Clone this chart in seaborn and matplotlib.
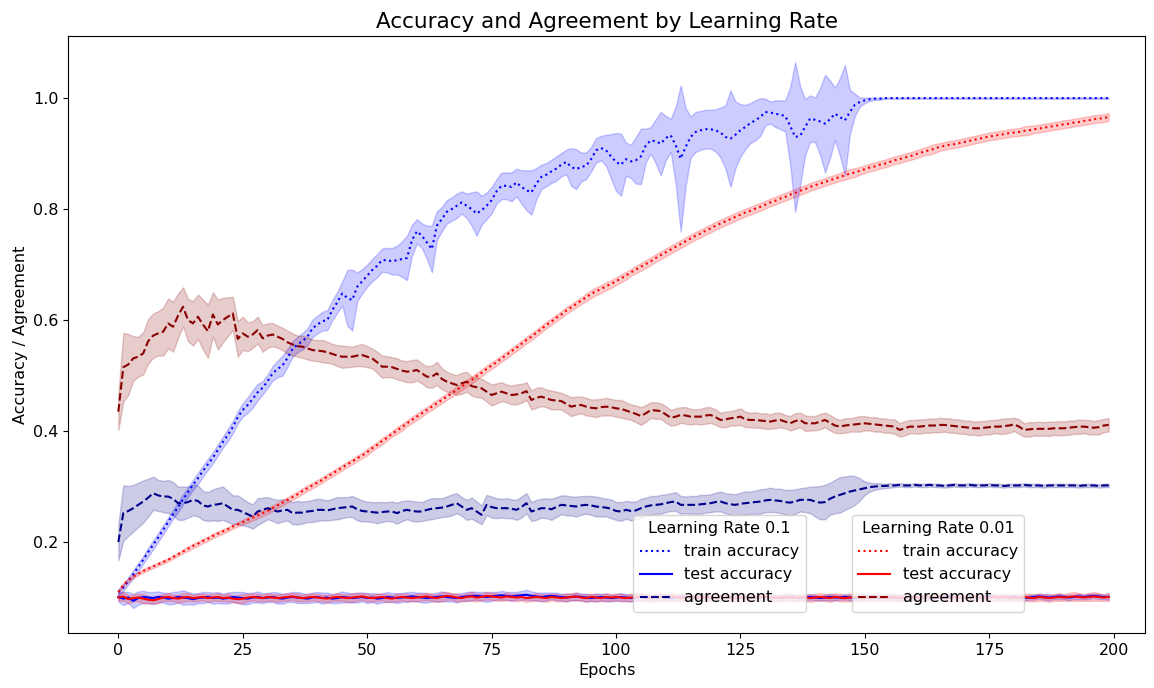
"""Accuracy and agreement curves for two learning rates."""

import numpy as np
import matplotlib
matplotlib.use('Agg')
import matplotlib.pyplot as plt
import seaborn as sns

####################################################################################################
## DATA (mean and std over runs, one value per epoch)

EPOCHS = list(range(200))

LR1_TRAIN = [
    0.110, 0.118, 0.130, 0.142, 0.155, 0.168, 0.182, 0.195, 0.208, 0.222,
    0.236, 0.250, 0.263, 0.277, 0.290, 0.303, 0.315, 0.328, 0.340, 0.352,
    0.366, 0.380, 0.393, 0.407, 0.425, 0.438, 0.447, 0.458, 0.470, 0.478,
    0.490, 0.504, 0.512, 0.518, 0.532, 0.548, 0.556, 0.562, 0.570, 0.585,
    0.592, 0.598, 0.600, 0.618, 0.632, 0.648, 0.640, 0.636, 0.660, 0.670,
    0.680, 0.690, 0.698, 0.708, 0.708, 0.706, 0.708, 0.710, 0.712, 0.744,
    0.760, 0.752, 0.740, 0.728, 0.770, 0.782, 0.795, 0.800, 0.806, 0.812,
    0.806, 0.800, 0.792, 0.798, 0.806, 0.816, 0.832, 0.842, 0.842, 0.840,
    0.848, 0.840, 0.834, 0.830, 0.846, 0.858, 0.862, 0.868, 0.873, 0.880,
    0.885, 0.876, 0.872, 0.876, 0.878, 0.890, 0.906, 0.910, 0.906, 0.895,
    0.885, 0.880, 0.890, 0.886, 0.888, 0.895, 0.915, 0.924, 0.922, 0.918,
    0.928, 0.933, 0.915, 0.891, 0.912, 0.930, 0.939, 0.942, 0.944, 0.944,
    0.942, 0.938, 0.930, 0.927, 0.934, 0.942, 0.948, 0.955, 0.960, 0.966,
    0.975, 0.974, 0.972, 0.970, 0.968, 0.950, 0.930, 0.932, 0.948, 0.963,
    0.961, 0.958, 0.954, 0.962, 0.972, 0.966, 0.960, 0.975, 0.988, 0.993,
    0.996, 0.998, 0.999, 0.999, 1.000, 1.000, 1.000, 1.000, 1.000, 1.000,
    1.000, 1.000, 1.000, 1.000, 1.000, 1.000, 1.000, 1.000, 1.000, 1.000,
    1.000, 1.000, 1.000, 1.000, 1.000, 1.000, 1.000, 1.000, 1.000, 1.000,
    1.000, 1.000, 1.000, 1.000, 1.000, 1.000, 1.000, 1.000, 1.000, 1.000,
    1.000, 1.000, 1.000, 1.000, 1.000, 1.000, 1.000, 1.000, 1.000, 1.000,
]
LR1_TRAIN_SD = [
    0.005, 0.006, 0.006, 0.007, 0.007, 0.007, 0.008, 0.008, 0.008, 0.008,
    0.008, 0.008, 0.009, 0.009, 0.009, 0.009, 0.010, 0.010, 0.010, 0.010,
    0.010, 0.010, 0.011, 0.011, 0.011, 0.012, 0.014, 0.016, 0.015, 0.012,
    0.012, 0.013, 0.015, 0.018, 0.016, 0.014, 0.014, 0.015, 0.015, 0.016,
    0.016, 0.017, 0.018, 0.018, 0.019, 0.022, 0.050, 0.055, 0.026, 0.022,
    0.020, 0.020, 0.021, 0.021, 0.022, 0.024, 0.026, 0.032, 0.040, 0.028,
    0.022, 0.022, 0.030, 0.042, 0.026, 0.022, 0.021, 0.021, 0.022, 0.020,
    0.022, 0.030, 0.040, 0.026, 0.024, 0.024, 0.022, 0.024, 0.024, 0.026,
    0.025, 0.030, 0.036, 0.040, 0.028, 0.022, 0.021, 0.021, 0.022, 0.021,
    0.022, 0.034, 0.036, 0.026, 0.024, 0.022, 0.022, 0.022, 0.028, 0.040,
    0.052, 0.056, 0.030, 0.030, 0.042, 0.050, 0.030, 0.024, 0.040, 0.057,
    0.040, 0.030, 0.070, 0.132, 0.070, 0.037, 0.036, 0.035, 0.035, 0.035,
    0.038, 0.045, 0.057, 0.087, 0.060, 0.047, 0.040, 0.036, 0.036, 0.034,
    0.024, 0.020, 0.024, 0.026, 0.028, 0.070, 0.135, 0.090, 0.050, 0.042,
    0.040, 0.060, 0.088, 0.070, 0.047, 0.070, 0.100, 0.040, 0.020, 0.008,
    0.005, 0.003, 0.002, 0.002, 0.001, 0.001, 0.001, 0.001, 0.001, 0.001,
    0.001, 0.001, 0.001, 0.001, 0.001, 0.001, 0.001, 0.001, 0.001, 0.001,
    0.001, 0.001, 0.001, 0.001, 0.001, 0.001, 0.001, 0.001, 0.001, 0.001,
    0.001, 0.001, 0.001, 0.001, 0.001, 0.001, 0.001, 0.001, 0.001, 0.001,
    0.001, 0.001, 0.001, 0.001, 0.001, 0.001, 0.001, 0.001, 0.001, 0.001,
]

LR1_TEST = [
    0.101, 0.098, 0.100, 0.094, 0.099, 0.101, 0.100, 0.099, 0.101, 0.100,
    0.098, 0.099, 0.101, 0.100, 0.099, 0.097, 0.099, 0.100, 0.101, 0.099,
    0.100, 0.098, 0.099, 0.101, 0.100, 0.099, 0.098, 0.100, 0.101, 0.099,
    0.100, 0.101, 0.099, 0.098, 0.100, 0.101, 0.100, 0.099, 0.098, 0.100,
    0.101, 0.099, 0.100, 0.098, 0.099, 0.101, 0.100, 0.099, 0.100, 0.101,
    0.099, 0.100, 0.098, 0.099, 0.101, 0.100, 0.099, 0.100, 0.101, 0.102,
    0.101, 0.100, 0.099, 0.100, 0.101, 0.102, 0.101, 0.100, 0.099, 0.101,
    0.102, 0.103, 0.103, 0.102, 0.101, 0.102, 0.103, 0.104, 0.103, 0.102,
    0.103, 0.104, 0.105, 0.103, 0.102, 0.101, 0.102, 0.103, 0.102, 0.101,
    0.100, 0.101, 0.102, 0.101, 0.100, 0.099, 0.100, 0.101, 0.100, 0.099,
    0.100, 0.101, 0.100, 0.099, 0.100, 0.101, 0.100, 0.099, 0.100, 0.101,
    0.100, 0.099, 0.100, 0.101, 0.100, 0.100, 0.099, 0.100, 0.101, 0.100,
    0.099, 0.100, 0.101, 0.100, 0.099, 0.100, 0.101, 0.100, 0.099, 0.100,
    0.101, 0.100, 0.100, 0.099, 0.100, 0.101, 0.100, 0.099, 0.100, 0.101,
    0.100, 0.099, 0.100, 0.101, 0.100, 0.100, 0.101, 0.100, 0.099, 0.100,
    0.101, 0.100, 0.100, 0.099, 0.100, 0.101, 0.100, 0.099, 0.100, 0.101,
    0.100, 0.100, 0.101, 0.100, 0.099, 0.100, 0.101, 0.102, 0.101, 0.100,
    0.099, 0.100, 0.101, 0.100, 0.101, 0.102, 0.101, 0.100, 0.101, 0.100,
    0.101, 0.100, 0.099, 0.100, 0.101, 0.102, 0.101, 0.100, 0.101, 0.102,
    0.101, 0.100, 0.101, 0.102, 0.101, 0.102, 0.103, 0.102, 0.101, 0.101,
]
LR1_TEST_SD = [
    0.008, 0.012, 0.010, 0.013, 0.012, 0.011, 0.010, 0.011, 0.010, 0.009,
    0.010, 0.011, 0.010, 0.013, 0.011, 0.010, 0.009, 0.010, 0.009, 0.010,
    0.010, 0.009, 0.010, 0.009, 0.010, 0.011, 0.010, 0.009, 0.010, 0.009,
    0.008, 0.009, 0.010, 0.009, 0.008, 0.009, 0.010, 0.009, 0.008, 0.009,
    0.009, 0.010, 0.009, 0.008, 0.009, 0.010, 0.009, 0.008, 0.009, 0.008,
    0.009, 0.008, 0.009, 0.008, 0.009, 0.008, 0.009, 0.008, 0.009, 0.008,
    0.008, 0.009, 0.008, 0.007, 0.008, 0.009, 0.008, 0.007, 0.008, 0.007,
    0.008, 0.008, 0.007, 0.008, 0.009, 0.008, 0.007, 0.008, 0.007, 0.008,
    0.007, 0.008, 0.009, 0.008, 0.007, 0.008, 0.007, 0.006, 0.007, 0.006,
    0.007, 0.006, 0.007, 0.006, 0.007, 0.006, 0.007, 0.006, 0.007, 0.006,
    0.006, 0.007, 0.006, 0.006, 0.007, 0.006, 0.006, 0.005, 0.006, 0.006,
    0.005, 0.006, 0.006, 0.005, 0.006, 0.005, 0.006, 0.005, 0.006, 0.005,
    0.005, 0.006, 0.005, 0.004, 0.005, 0.006, 0.005, 0.004, 0.005, 0.005,
    0.006, 0.005, 0.004, 0.005, 0.005, 0.006, 0.005, 0.004, 0.005, 0.005,
    0.005, 0.004, 0.005, 0.006, 0.005, 0.004, 0.005, 0.005, 0.004, 0.005,
    0.005, 0.004, 0.005, 0.005, 0.004, 0.005, 0.004, 0.005, 0.005, 0.004,
    0.005, 0.004, 0.005, 0.004, 0.005, 0.005, 0.004, 0.005, 0.004, 0.005,
    0.004, 0.005, 0.005, 0.004, 0.005, 0.004, 0.005, 0.004, 0.005, 0.004,
    0.005, 0.004, 0.005, 0.004, 0.005, 0.004, 0.005, 0.005, 0.004, 0.005,
    0.004, 0.005, 0.004, 0.005, 0.004, 0.005, 0.004, 0.005, 0.004, 0.005,
]

LR1_AGREE = [
    0.200, 0.252, 0.256, 0.261, 0.267, 0.273, 0.280, 0.288, 0.284, 0.282,
    0.282, 0.278, 0.270, 0.270, 0.272, 0.276, 0.274, 0.266, 0.264, 0.267,
    0.268, 0.270, 0.264, 0.258, 0.258, 0.254, 0.250, 0.246, 0.255, 0.258,
    0.261, 0.258, 0.255, 0.257, 0.258, 0.252, 0.253, 0.253, 0.255, 0.256,
    0.258, 0.258, 0.257, 0.259, 0.261, 0.262, 0.263, 0.264, 0.259, 0.256,
    0.255, 0.254, 0.253, 0.254, 0.255, 0.255, 0.252, 0.256, 0.258, 0.256,
    0.255, 0.255, 0.258, 0.260, 0.261, 0.262, 0.264, 0.267, 0.270, 0.264,
    0.258, 0.261, 0.255, 0.249, 0.267, 0.263, 0.261, 0.261, 0.261, 0.260,
    0.258, 0.263, 0.270, 0.255, 0.258, 0.261, 0.261, 0.259, 0.263, 0.267,
    0.266, 0.265, 0.264, 0.266, 0.267, 0.266, 0.264, 0.263, 0.262, 0.260,
    0.256, 0.255, 0.258, 0.256, 0.257, 0.261, 0.264, 0.266, 0.267, 0.268,
    0.270, 0.272, 0.273, 0.267, 0.267, 0.267, 0.267, 0.268, 0.269, 0.270,
    0.272, 0.273, 0.270, 0.268, 0.267, 0.269, 0.270, 0.271, 0.272, 0.273,
    0.275, 0.276, 0.275, 0.274, 0.272, 0.271, 0.273, 0.276, 0.276, 0.276,
    0.273, 0.271, 0.272, 0.278, 0.282, 0.285, 0.288, 0.291, 0.293, 0.295,
    0.297, 0.299, 0.300, 0.301, 0.301, 0.302, 0.302, 0.303, 0.302, 0.302,
    0.303, 0.302, 0.302, 0.303, 0.302, 0.302, 0.301, 0.302, 0.303, 0.302,
    0.302, 0.303, 0.302, 0.302, 0.302, 0.303, 0.302, 0.302, 0.301, 0.302,
    0.302, 0.302, 0.303, 0.302, 0.302, 0.302, 0.301, 0.302, 0.302, 0.302,
    0.302, 0.302, 0.302, 0.301, 0.302, 0.302, 0.302, 0.301, 0.302, 0.302,
]
LR1_AGREE_SD = [
    0.033, 0.050, 0.045, 0.042, 0.040, 0.038, 0.034, 0.030, 0.028, 0.028,
    0.030, 0.030, 0.030, 0.030, 0.028, 0.028, 0.028, 0.026, 0.026, 0.028,
    0.030, 0.030, 0.028, 0.026, 0.026, 0.024, 0.022, 0.022, 0.024, 0.022,
    0.020, 0.020, 0.021, 0.020, 0.019, 0.020, 0.021, 0.020, 0.019, 0.020,
    0.020, 0.019, 0.018, 0.019, 0.020, 0.019, 0.018, 0.019, 0.020, 0.019,
    0.018, 0.018, 0.019, 0.018, 0.017, 0.018, 0.019, 0.018, 0.017, 0.018,
    0.018, 0.017, 0.018, 0.019, 0.018, 0.017, 0.018, 0.019, 0.018, 0.017,
    0.018, 0.019, 0.018, 0.017, 0.018, 0.019, 0.018, 0.017, 0.018, 0.017,
    0.018, 0.019, 0.018, 0.017, 0.018, 0.017, 0.018, 0.019, 0.018, 0.017,
    0.018, 0.017, 0.018, 0.017, 0.016, 0.017, 0.018, 0.017, 0.016, 0.017,
    0.016, 0.017, 0.016, 0.017, 0.016, 0.017, 0.016, 0.017, 0.016, 0.017,
    0.016, 0.016, 0.017, 0.016, 0.015, 0.016, 0.016, 0.017, 0.016, 0.016,
    0.017, 0.018, 0.018, 0.019, 0.019, 0.020, 0.021, 0.020, 0.021, 0.022,
    0.021, 0.022, 0.021, 0.022, 0.022, 0.023, 0.022, 0.021, 0.022, 0.024,
    0.027, 0.030, 0.031, 0.029, 0.030, 0.032, 0.030, 0.029, 0.026, 0.020,
    0.012, 0.008, 0.006, 0.005, 0.004, 0.004, 0.003, 0.003, 0.003, 0.003,
    0.003, 0.003, 0.003, 0.003, 0.003, 0.003, 0.003, 0.003, 0.003, 0.003,
    0.003, 0.003, 0.003, 0.003, 0.003, 0.003, 0.003, 0.003, 0.003, 0.003,
    0.003, 0.003, 0.003, 0.003, 0.003, 0.003, 0.003, 0.003, 0.003, 0.003,
    0.003, 0.003, 0.003, 0.003, 0.003, 0.003, 0.003, 0.003, 0.003, 0.003,
]

LR01_TRAIN = [
    0.110, 0.123, 0.131, 0.138, 0.143, 0.148, 0.152, 0.156, 0.160, 0.164,
    0.168, 0.173, 0.178, 0.183, 0.188, 0.193, 0.197, 0.202, 0.206, 0.211,
    0.215, 0.219, 0.223, 0.228, 0.232, 0.236, 0.240, 0.244, 0.248, 0.252,
    0.256, 0.261, 0.266, 0.271, 0.276, 0.281, 0.286, 0.292, 0.297, 0.302,
    0.307, 0.312, 0.318, 0.323, 0.329, 0.334, 0.340, 0.345, 0.351, 0.356,
    0.362, 0.369, 0.375, 0.382, 0.388, 0.395, 0.401, 0.407, 0.414, 0.420,
    0.426, 0.432, 0.438, 0.444, 0.450, 0.456, 0.462, 0.468, 0.474, 0.480,
    0.486, 0.492, 0.499, 0.505, 0.512, 0.518, 0.524, 0.531, 0.537, 0.544,
    0.550, 0.557, 0.564, 0.570, 0.577, 0.584, 0.591, 0.597, 0.604, 0.610,
    0.617, 0.623, 0.629, 0.635, 0.641, 0.647, 0.652, 0.656, 0.661, 0.665,
    0.670, 0.675, 0.680, 0.686, 0.691, 0.696, 0.701, 0.706, 0.712, 0.717,
    0.722, 0.727, 0.732, 0.737, 0.742, 0.747, 0.752, 0.756, 0.761, 0.765,
    0.770, 0.774, 0.778, 0.782, 0.786, 0.790, 0.794, 0.797, 0.801, 0.804,
    0.808, 0.812, 0.815, 0.819, 0.822, 0.826, 0.829, 0.833, 0.836, 0.840,
    0.843, 0.846, 0.849, 0.852, 0.855, 0.858, 0.861, 0.864, 0.866, 0.869,
    0.872, 0.875, 0.877, 0.880, 0.882, 0.885, 0.888, 0.890, 0.893, 0.895,
    0.898, 0.901, 0.904, 0.906, 0.909, 0.912, 0.914, 0.916, 0.917, 0.919,
    0.921, 0.923, 0.925, 0.927, 0.929, 0.931, 0.932, 0.934, 0.935, 0.937,
    0.938, 0.939, 0.941, 0.942, 0.944, 0.945, 0.947, 0.948, 0.950, 0.951,
    0.953, 0.954, 0.956, 0.957, 0.959, 0.960, 0.962, 0.963, 0.964, 0.966,
]
LR01_TRAIN_SD = [
    0.002, 0.003, 0.003, 0.003, 0.003, 0.003, 0.003, 0.003, 0.003, 0.003,
    0.003, 0.003, 0.003, 0.003, 0.004, 0.004, 0.004, 0.004, 0.004, 0.004,
    0.004, 0.004, 0.004, 0.004, 0.004, 0.004, 0.005, 0.005, 0.005, 0.005,
    0.005, 0.005, 0.005, 0.005, 0.005, 0.005, 0.005, 0.005, 0.005, 0.005,
    0.005, 0.005, 0.005, 0.005, 0.005, 0.005, 0.005, 0.005, 0.005, 0.005,
    0.006, 0.005, 0.005, 0.006, 0.005, 0.005, 0.006, 0.006, 0.005, 0.006,
    0.006, 0.006, 0.005, 0.006, 0.006, 0.006, 0.006, 0.006, 0.006, 0.006,
    0.006, 0.006, 0.006, 0.006, 0.006, 0.006, 0.006, 0.006, 0.006, 0.006,
    0.006, 0.006, 0.006, 0.006, 0.006, 0.006, 0.006, 0.006, 0.006, 0.006,
    0.006, 0.006, 0.006, 0.006, 0.007, 0.007, 0.007, 0.007, 0.007, 0.007,
    0.007, 0.007, 0.007, 0.006, 0.007, 0.007, 0.007, 0.007, 0.007, 0.007,
    0.007, 0.007, 0.007, 0.007, 0.007, 0.007, 0.007, 0.007, 0.007, 0.007,
    0.007, 0.007, 0.007, 0.007, 0.007, 0.007, 0.007, 0.007, 0.007, 0.007,
    0.007, 0.007, 0.007, 0.007, 0.007, 0.007, 0.007, 0.007, 0.007, 0.007,
    0.007, 0.007, 0.007, 0.007, 0.007, 0.007, 0.008, 0.008, 0.008, 0.007,
    0.007, 0.007, 0.007, 0.007, 0.007, 0.007, 0.007, 0.007, 0.007, 0.007,
    0.007, 0.007, 0.007, 0.008, 0.008, 0.007, 0.007, 0.007, 0.007, 0.007,
    0.007, 0.007, 0.007, 0.007, 0.007, 0.007, 0.007, 0.007, 0.007, 0.007,
    0.007, 0.007, 0.008, 0.008, 0.007, 0.007, 0.007, 0.007, 0.007, 0.007,
    0.007, 0.007, 0.007, 0.007, 0.007, 0.007, 0.007, 0.007, 0.007, 0.007,
]

LR01_TEST = [
    0.100, 0.102, 0.097, 0.099, 0.100, 0.098, 0.096, 0.095, 0.097, 0.100,
    0.101, 0.099, 0.098, 0.100, 0.101, 0.099, 0.100, 0.101, 0.099, 0.100,
    0.101, 0.099, 0.100, 0.098, 0.097, 0.098, 0.100, 0.101, 0.100, 0.099,
    0.101, 0.100, 0.099, 0.100, 0.101, 0.102, 0.100, 0.099, 0.100, 0.101,
    0.100, 0.099, 0.098, 0.100, 0.101, 0.100, 0.099, 0.100, 0.101, 0.102,
    0.100, 0.099, 0.100, 0.101, 0.099, 0.098, 0.100, 0.101, 0.100, 0.099,
    0.100, 0.101, 0.102, 0.100, 0.099, 0.101, 0.103, 0.102, 0.100, 0.099,
    0.101, 0.102, 0.100, 0.101, 0.103, 0.102, 0.101, 0.100, 0.102, 0.101,
    0.100, 0.101, 0.099, 0.100, 0.101, 0.100, 0.099, 0.101, 0.100, 0.099,
    0.100, 0.101, 0.102, 0.100, 0.099, 0.101, 0.100, 0.099, 0.101, 0.100,
    0.101, 0.100, 0.099, 0.100, 0.101, 0.102, 0.100, 0.099, 0.100, 0.101,
    0.100, 0.102, 0.101, 0.099, 0.100, 0.101, 0.100, 0.099, 0.101, 0.100,
    0.099, 0.100, 0.101, 0.100, 0.099, 0.101, 0.100, 0.099, 0.100, 0.101,
    0.102, 0.100, 0.099, 0.100, 0.101, 0.100, 0.099, 0.101, 0.100, 0.099,
    0.100, 0.101, 0.100, 0.099, 0.101, 0.100, 0.099, 0.100, 0.101, 0.100,
    0.099, 0.100, 0.101, 0.100, 0.099, 0.100, 0.101, 0.100, 0.099, 0.101,
    0.100, 0.099, 0.100, 0.101, 0.100, 0.101, 0.100, 0.099, 0.100, 0.101,
    0.100, 0.099, 0.101, 0.100, 0.099, 0.100, 0.101, 0.100, 0.101, 0.100,
    0.099, 0.100, 0.101, 0.100, 0.099, 0.101, 0.100, 0.099, 0.100, 0.101,
    0.100, 0.101, 0.102, 0.101, 0.100, 0.101, 0.102, 0.101, 0.100, 0.101,
]
LR01_TEST_SD = [
    0.006, 0.008, 0.007, 0.006, 0.007, 0.008, 0.007, 0.006, 0.007, 0.006,
    0.007, 0.006, 0.007, 0.008, 0.007, 0.006, 0.007, 0.006, 0.007, 0.006,
    0.007, 0.006, 0.007, 0.006, 0.007, 0.008, 0.007, 0.006, 0.007, 0.006,
    0.007, 0.006, 0.007, 0.006, 0.007, 0.006, 0.007, 0.006, 0.007, 0.006,
    0.007, 0.006, 0.007, 0.006, 0.007, 0.006, 0.007, 0.008, 0.007, 0.006,
    0.007, 0.006, 0.007, 0.006, 0.007, 0.006, 0.007, 0.006, 0.007, 0.006,
    0.007, 0.006, 0.007, 0.006, 0.007, 0.008, 0.007, 0.006, 0.007, 0.006,
    0.007, 0.008, 0.007, 0.006, 0.007, 0.006, 0.007, 0.006, 0.007, 0.006,
    0.007, 0.006, 0.007, 0.006, 0.007, 0.006, 0.007, 0.006, 0.007, 0.006,
    0.007, 0.006, 0.007, 0.006, 0.007, 0.006, 0.007, 0.006, 0.007, 0.006,
    0.006, 0.007, 0.006, 0.007, 0.006, 0.007, 0.006, 0.007, 0.006, 0.007,
    0.006, 0.007, 0.006, 0.007, 0.006, 0.007, 0.006, 0.007, 0.006, 0.007,
    0.006, 0.007, 0.006, 0.007, 0.006, 0.007, 0.006, 0.007, 0.006, 0.007,
    0.006, 0.007, 0.006, 0.007, 0.006, 0.007, 0.006, 0.007, 0.006, 0.007,
    0.006, 0.007, 0.006, 0.007, 0.006, 0.007, 0.006, 0.007, 0.006, 0.007,
    0.006, 0.007, 0.006, 0.007, 0.006, 0.007, 0.006, 0.007, 0.006, 0.007,
    0.006, 0.007, 0.006, 0.007, 0.006, 0.007, 0.006, 0.007, 0.006, 0.007,
    0.006, 0.007, 0.006, 0.007, 0.006, 0.007, 0.006, 0.007, 0.006, 0.007,
    0.006, 0.007, 0.006, 0.007, 0.006, 0.007, 0.006, 0.007, 0.006, 0.007,
    0.006, 0.007, 0.008, 0.007, 0.006, 0.007, 0.008, 0.007, 0.006, 0.007,
]

LR01_AGREE = [
    0.435, 0.515, 0.520, 0.531, 0.534, 0.540, 0.562, 0.572, 0.576, 0.579,
    0.594, 0.588, 0.608, 0.624, 0.600, 0.594, 0.606, 0.592, 0.580, 0.610,
    0.592, 0.600, 0.606, 0.612, 0.566, 0.576, 0.570, 0.574, 0.582, 0.567,
    0.572, 0.574, 0.570, 0.566, 0.560, 0.556, 0.553, 0.552, 0.549, 0.546,
    0.545, 0.544, 0.542, 0.539, 0.536, 0.534, 0.534, 0.534, 0.536, 0.537,
    0.534, 0.531, 0.524, 0.516, 0.516, 0.515, 0.512, 0.509, 0.507, 0.508,
    0.510, 0.504, 0.498, 0.498, 0.504, 0.494, 0.489, 0.486, 0.483, 0.486,
    0.489, 0.481, 0.479, 0.477, 0.471, 0.465, 0.468, 0.471, 0.468, 0.465,
    0.466, 0.468, 0.472, 0.456, 0.460, 0.462, 0.459, 0.456, 0.455, 0.454,
    0.449, 0.444, 0.446, 0.447, 0.444, 0.442, 0.441, 0.443, 0.444, 0.443,
    0.441, 0.440, 0.437, 0.434, 0.431, 0.427, 0.432, 0.438, 0.437, 0.436,
    0.430, 0.424, 0.426, 0.429, 0.428, 0.426, 0.426, 0.426, 0.428, 0.429,
    0.425, 0.420, 0.421, 0.423, 0.424, 0.426, 0.421, 0.420, 0.420, 0.419,
    0.418, 0.417, 0.419, 0.420, 0.417, 0.414, 0.418, 0.420, 0.414, 0.414,
    0.414, 0.417, 0.420, 0.415, 0.410, 0.408, 0.410, 0.411, 0.412, 0.413,
    0.414, 0.413, 0.412, 0.411, 0.410, 0.409, 0.408, 0.402, 0.405, 0.408,
    0.408, 0.408, 0.409, 0.410, 0.410, 0.411, 0.411, 0.410, 0.409, 0.408,
    0.407, 0.406, 0.405, 0.405, 0.406, 0.407, 0.408, 0.408, 0.409, 0.410,
    0.412, 0.408, 0.402, 0.403, 0.404, 0.404, 0.404, 0.404, 0.405, 0.405,
    0.405, 0.406, 0.407, 0.408, 0.408, 0.407, 0.406, 0.407, 0.410, 0.411,
]
LR01_AGREE_SD = [
    0.033, 0.062, 0.055, 0.040, 0.036, 0.038, 0.040, 0.040, 0.040, 0.043,
    0.045, 0.045, 0.040, 0.035, 0.038, 0.040, 0.040, 0.045, 0.048, 0.040,
    0.045, 0.040, 0.035, 0.030, 0.032, 0.030, 0.026, 0.024, 0.024, 0.024,
    0.022, 0.021, 0.020, 0.020, 0.021, 0.020, 0.019, 0.020, 0.020, 0.019,
    0.019, 0.020, 0.019, 0.018, 0.019, 0.020, 0.019, 0.018, 0.019, 0.020,
    0.019, 0.018, 0.019, 0.020, 0.019, 0.018, 0.019, 0.018, 0.019, 0.020,
    0.019, 0.018, 0.019, 0.020, 0.021, 0.019, 0.018, 0.017, 0.018, 0.019,
    0.018, 0.017, 0.018, 0.017, 0.018, 0.019, 0.018, 0.017, 0.016, 0.017,
    0.018, 0.017, 0.016, 0.017, 0.018, 0.017, 0.016, 0.017, 0.016, 0.015,
    0.016, 0.017, 0.016, 0.015, 0.016, 0.015, 0.016, 0.015, 0.016, 0.015,
    0.015, 0.016, 0.015, 0.014, 0.015, 0.016, 0.015, 0.014, 0.015, 0.014,
    0.015, 0.014, 0.015, 0.014, 0.015, 0.014, 0.013, 0.014, 0.015, 0.014,
    0.014, 0.013, 0.014, 0.013, 0.014, 0.015, 0.014, 0.013, 0.014, 0.013,
    0.014, 0.013, 0.014, 0.013, 0.012, 0.013, 0.014, 0.013, 0.014, 0.013,
    0.013, 0.014, 0.013, 0.014, 0.013, 0.012, 0.013, 0.012, 0.013, 0.014,
    0.013, 0.012, 0.013, 0.012, 0.013, 0.012, 0.013, 0.012, 0.013, 0.012,
    0.012, 0.013, 0.012, 0.013, 0.012, 0.013, 0.012, 0.013, 0.012, 0.013,
    0.012, 0.013, 0.012, 0.013, 0.012, 0.013, 0.012, 0.013, 0.014, 0.013,
    0.012, 0.013, 0.012, 0.013, 0.012, 0.013, 0.012, 0.013, 0.012, 0.013,
    0.012, 0.013, 0.012, 0.013, 0.012, 0.013, 0.012, 0.013, 0.012, 0.012,
]

LABELS = ['train accuracy', 'test accuracy', 'agreement']

## SETTINGS
COLOR1 = 'blue'
COLOR2 = 'red'
AGREE1 = 'darkblue'
AGREE2 = 'darkred'

plt.rcParams['font.size'] = 11.5


def plot_curve(ax, mean, sd, color, linestyle):
    """Draw a mean curve with a +/- 1 std band, return the line handle."""

    mean, sd = np.asarray(mean), np.asarray(sd)
    assert len(mean) == len(EPOCHS) and len(sd) == len(EPOCHS)
    ax.fill_between(EPOCHS, mean - sd, mean + sd, color=color, alpha=0.2)
    sns.lineplot(x=EPOCHS, y=mean, color=color, linestyle=linestyle,
                 errorbar=None, ax=ax)
    return ax.lines[-1]


fig = plt.figure(figsize=(11.54, 6.88), dpi=100)
ax = fig.add_axes([0.0592, 0.0799, 0.9330, 0.8678])

h1 = [plot_curve(ax, LR1_TRAIN, LR1_TRAIN_SD, COLOR1, ':'),
      plot_curve(ax, LR1_TEST, LR1_TEST_SD, COLOR1, '-'),
      plot_curve(ax, LR1_AGREE, LR1_AGREE_SD, AGREE1, '--')]
h2 = [plot_curve(ax, LR01_TRAIN, LR01_TRAIN_SD, COLOR2, ':'),
      plot_curve(ax, LR01_TEST, LR01_TEST_SD, COLOR2, '-'),
      plot_curve(ax, LR01_AGREE, LR01_AGREE_SD, AGREE2, '--')]

ax.set(xlim=(-10.05, 206.3), ylim=(0.036, 1.112))
ax.set_xlabel('Epochs')
ax.set_ylabel('Accuracy / Agreement')
ax.set_title('Accuracy and Agreement by Learning Rate', fontsize=15.5)

leg1 = ax.legend(h1, LABELS, title='Learning Rate 0.1', loc='lower left',
                 bbox_to_anchor=(0.5248, 0.0357), borderaxespad=0)
ax.add_artist(leg1)
ax.legend(h2, LABELS, title='Learning Rate 0.01', loc='lower left',
          bbox_to_anchor=(0.7276, 0.0357), borderaxespad=0)

fig.savefig('out.png', dpi=100)
